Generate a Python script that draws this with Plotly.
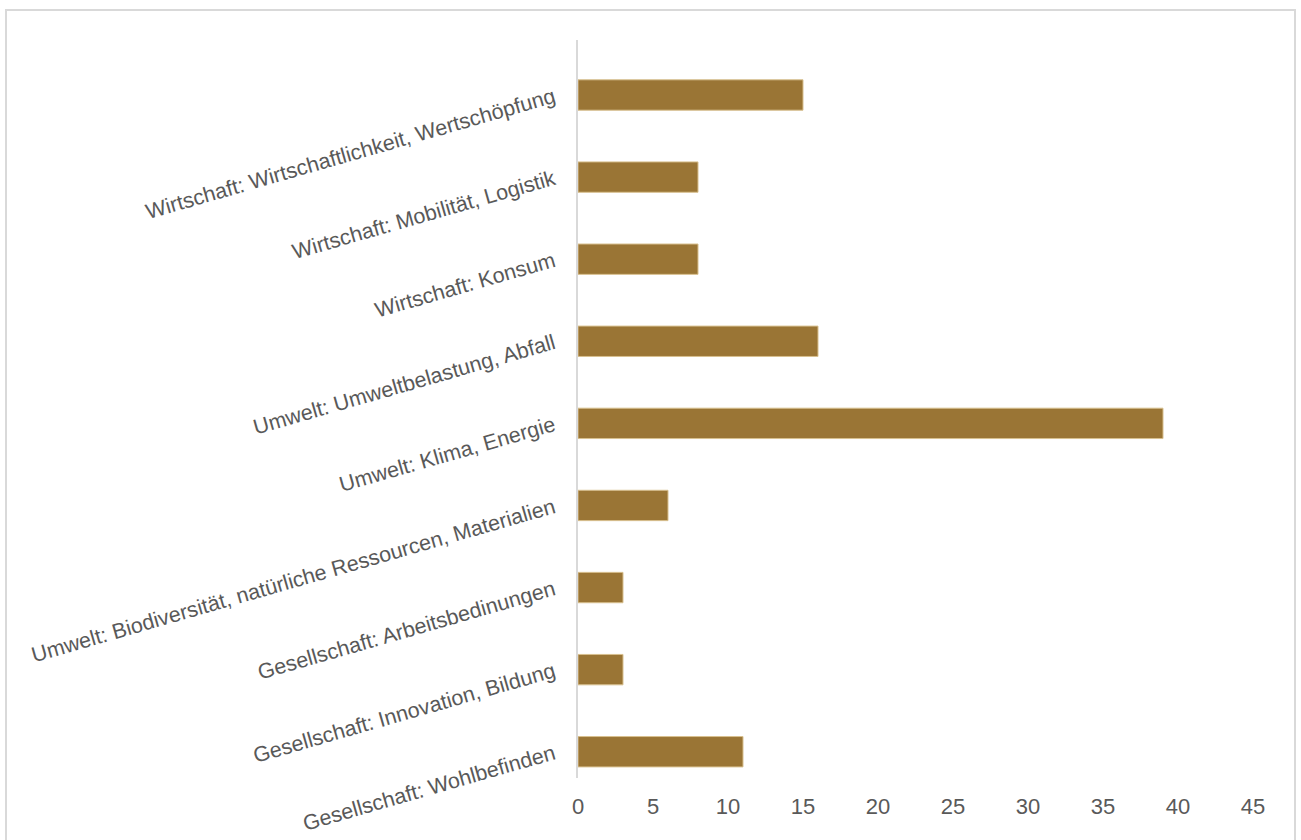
import plotly.graph_objects as go

categories = [
    "Wirtschaft: Wirtschaftlichkeit, Wertschöpfung",
    "Wirtschaft: Mobilität, Logistik",
    "Wirtschaft: Konsum",
    "Umwelt: Umweltbelastung, Abfall",
    "Umwelt: Klima, Energie",
    "Umwelt: Biodiversität, natürliche Ressourcen, Materialien",
    "Gesellschaft: Arbeitsbedinungen",
    "Gesellschaft: Innovation, Bildung",
    "Gesellschaft: Wohlbefinden",
]
values = [15, 8, 8, 16, 39, 6, 3, 3, 11]
x_ticks = [0, 5, 10, 15, 20, 25, 30, 35, 40, 45]

fig = go.Figure(go.Bar(
    x=values, y=categories, orientation="h",
    marker=dict(color="#9A7535", line=dict(color="#d8c08f", width=1)),
    width=0.37,
))

fig.update_layout(
    width=1301, height=840,
    margin=dict(l=578, r=48, t=40, b=62),
    paper_bgcolor="white", plot_bgcolor="white",
    font=dict(family="Liberation Sans, Arial, sans-serif", color="#595959"),
    showlegend=False,
    xaxis=dict(range=[0, 45], tickvals=x_ticks, showgrid=False, zeroline=False,
               showline=False, ticks="", ticklabelstandoff=13, automargin=False,
               tickfont=dict(size=22, family="Liberation Sans Narrow, Arial Narrow, Liberation Sans, sans-serif")),
    yaxis=dict(range=[8.32, -0.67], showgrid=False, zeroline=False, showline=True,
               linecolor="#d9d9d9", linewidth=2, ticks="", tickangle=-16, automargin=False,
               tickfont=dict(size=21.5), ticklabelstandoff=18),
    shapes=[dict(type="rect", xref="paper", yref="paper",
                 x0=(6 - 578) / 675, x1=(1295 - 578) / 675,
                 y0=-0.2, y1=(778 - 10) / 738,
                 line=dict(color="#d9d9d9", width=2), fillcolor="rgba(0,0,0,0)", layer="below")],
)

fig.write_html("out.html", config={"displayModeBar": False},
               post_script="document.body.style.margin='0';")
